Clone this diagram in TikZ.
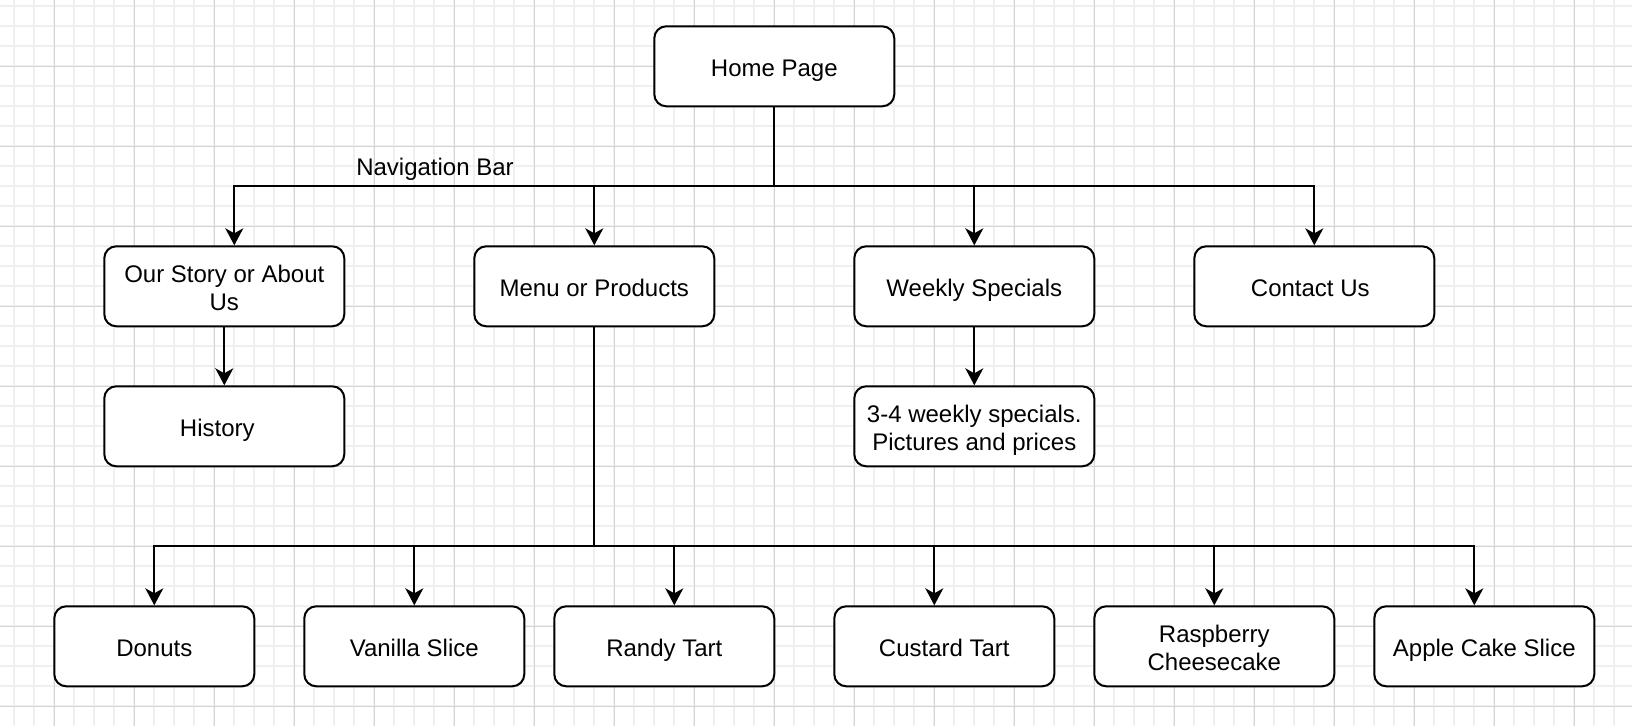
\documentclass[tikz,border=0pt]{standalone}
\usepackage{fontspec}
\setmainfont{Liberation Sans}
\usetikzlibrary{arrows.meta}
\definecolor{minorgrid}{RGB}{240,240,240}
\definecolor{majorgrid}{RGB}{212,212,212}
\begin{document}
\begin{tikzpicture}[
  x=0.5pt, y=-0.5pt,
  box/.style={draw, line width=1pt, rounded corners=6pt, fill=white,
    align=center, inner sep=0pt, minimum height=40pt, minimum width=120pt,
    text height=10pt, text depth=0pt,
    font=\fontsize{12pt}{13.8pt}\selectfont},
  twoline/.style={text height=23.8pt, text depth=0pt},
  link/.style={line width=1pt, -{Stealth[length=8.5pt, width=9pt, inset=2.5pt]}},
  minorline/.style={draw=minorgrid, line width=1pt},
  majorline/.style={draw=majorgrid, line width=0.5pt}
]
\useasboundingbox (0,0) rectangle (1632,726);
\fill[white] (0,0) rectangle (1632,726);

% background grid
\foreach \i in {0,...,80} \draw[minorline] ({14.3+20*\i},0) -- ({14.3+20*\i},726);
\foreach \i in {0,...,35} \draw[minorline] (0,{6.3+20*\i}) -- (1632,{6.3+20*\i});
\foreach \i in {0,...,19} \draw[majorline] ({54.3+80*\i},0) -- ({54.3+80*\i},726);
\foreach \i in {0,...,8} \draw[majorline] (0,{66.3+80*\i}) -- (1632,{66.3+80*\i});

% pages
\node[box] (home) at (774.3,66.3) {Home Page};

\node[box, twoline] (story) at (224.3,286.3) {Our Story or About\\Us};
\node[box] (menu)    at (594.3,286.3)  {Menu or Products};
\node[box] (weekly)  at (974.3,286.3)  {Weekly Specials};
\node[box] (contact) at (1314.3,286.3) {Contact Us\hspace*{4pt}};

\node[box] (history)  at (224.3,426.3) {History\hspace*{7pt}};
\node[box, twoline] (specials) at (974.3,426.3) {3-4 weekly specials.\\Pictures and prices};

\node[box, minimum width=100pt] (donuts)    at (154.3,646.3)  {Donuts};
\node[box, minimum width=110pt] (vanilla)   at (414.3,646.3)  {Vanilla Slice};
\node[box, minimum width=110pt] (randy)     at (664.3,646.3)  {Randy Tart};
\node[box, minimum width=110pt] (custard)   at (944.3,646.3)  {Custard Tart};
\node[box, twoline, minimum width=120pt] (raspberry) at (1214.3,646.3) {Raspberry\\Cheesecake};
\node[box, minimum width=110pt] (apple)     at (1484.3,646.3) {Apple Cake Slice};

\node[font=\fontsize{12pt}{13.8pt}\selectfont, inner sep=0pt,
      text height=10pt, text depth=0pt] (navlabel) at (435,166) {Navigation Bar};

% navigation bar
\coordinate (navbus) at (774.3,186.3);
\draw[link] (home.south) -- (navbus) -| ([xshift=5pt]story.north);
\draw[link] (home.south) -- (navbus) -| (menu.north);
\draw[link] (home.south) -- (navbus) -| (weekly.north);
\draw[link] (home.south) -- (navbus) -| (contact.north);

\draw[link] (story.south) -- (history.north);
\draw[link] (weekly.south) -- (specials.north);

% menu items
\coordinate (menubus) at (594.3,546.3);
\draw[link] (menu.south) -- (menubus) -| (donuts.north);
\draw[link] (menu.south) -- (menubus) -| (vanilla.north);
\draw[link] (menu.south) -- (menubus) -| ([xshift=5pt]randy.north);
\draw[link] (menu.south) -- (menubus) -| ([xshift=-5pt]custard.north);
\draw[link] (menu.south) -- (menubus) -| (raspberry.north);
\draw[link] (menu.south) -- (menubus) -| ([xshift=-5pt]apple.north);
\end{tikzpicture}
\end{document}
